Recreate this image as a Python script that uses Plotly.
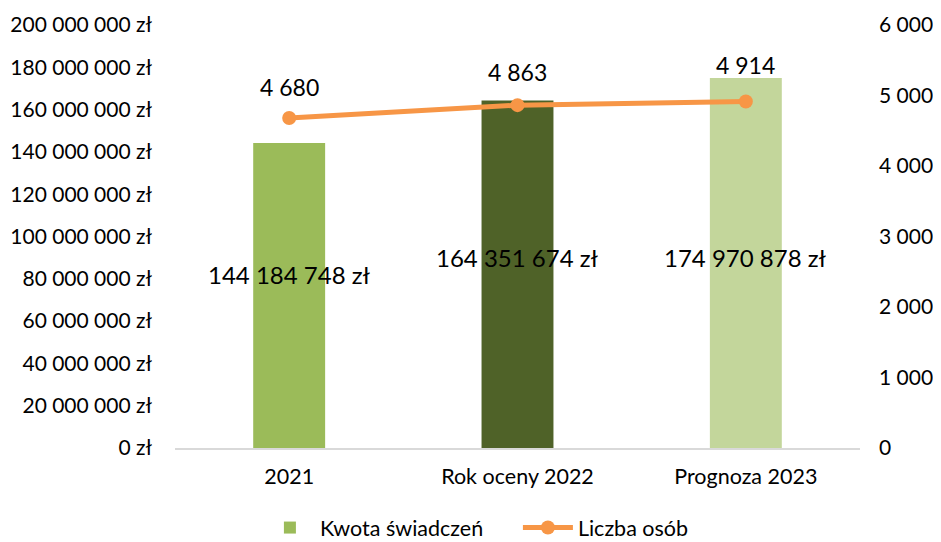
import plotly.graph_objects as go

categories = ["2021", "Rok oceny 2022", "Prognoza 2023"]
kwota = [144184748, 164351674, 174970878]
liczba = [4680, 4863, 4914]
kwota_labels = ["144 184 748 zł", "164 351 674 zł", "174 970 878 zł"]
liczba_labels = ["4 680", "4 863", "4 914"]
left_tickvals = [0, 20e6, 40e6, 60e6, 80e6, 100e6, 120e6, 140e6, 160e6, 180e6, 200e6]
left_ticktext = ["0 zł", "20 000 000 zł", "40 000 000 zł", "60 000 000 zł", "80 000 000 zł",
                 "100 000 000 zł", "120 000 000 zł", "140 000 000 zł", "160 000 000 zł",
                 "180 000 000 zł", "200 000 000 zł"]
right_tickvals = [0, 1000, 2000, 3000, 4000, 5000, 6000]
right_ticktext = ["0", "1 000", "2 000", "3 000", "4 000", "5 000", "6 000"]

bar_colors = ["#9BBB59", "#4F6228", "#C3D69B"]
bar_label_shift = [21, 17, 5]
line_label_shift = [31, 33, 37]

FONT = "Lato, 'Open Sans', sans-serif"

fig = go.Figure()
fig.add_trace(go.Bar(
    x=categories, y=kwota, name="Kwota świadczeń",
    marker=dict(color=bar_colors, line=dict(width=0)),
    width=0.315, yaxis="y", xaxis="x", hoverinfo="skip",
))
fig.add_trace(go.Scatter(
    x=categories, y=liczba, name="Liczba osób", mode="lines+markers",
    line=dict(color="#F79646", width=5),
    marker=dict(color="#F79646", size=14),
    yaxis="y2", xaxis="x", hoverinfo="skip",
))

annotations = []
for i, (v, t, s) in enumerate(zip(kwota, kwota_labels, bar_label_shift)):
    annotations.append(dict(x=i, y=v / 2, xref="x", yref="y", text=t, showarrow=False,
                            yshift=s, font=dict(family=FONT, size=24, color="#000000")))
for i, (v, t, s) in enumerate(zip(liczba, liczba_labels, line_label_shift)):
    annotations.append(dict(x=i, y=v, xref="x", yref="y2", text=t, showarrow=False,
                            yshift=s, font=dict(family=FONT, size=23, color="#000000")))

# page body has an 8px default margin, so the figure is sized 8px smaller
fig.update_layout(
    width=933, height=534,
    margin=dict(l=167, r=81, t=17, b=94, autoexpand=False),
    paper_bgcolor="white", plot_bgcolor="white",
    font=dict(family=FONT, size=21, color="#000000"),
    showlegend=True,
    legend=dict(orientation="h", xref="container", yref="container",
                x=0.27, xanchor="left", y=0.027, yanchor="middle",
                font=dict(size=21.5), itemwidth=50, entrywidth=193,
                traceorder="normal"),
    annotations=annotations,
)
fig.update_xaxes(type="category", categoryorder="array", categoryarray=categories,
                 range=[-0.5, 2.5], showgrid=False, showline=True, linecolor="#D9D9D9",
                 linewidth=2, ticks="outside", ticklen=8, tickcolor="rgba(0,0,0,0)",
                 tickfont=dict(size=21.5), automargin=False)
fig.update_layout(
    yaxis=dict(range=[0, 200e6], tickvals=left_tickvals, ticktext=left_ticktext,
               showgrid=False, zeroline=False, showline=False, ticks="",
               tickfont=dict(size=21), ticklabelstandoff=22, automargin=False),
    yaxis2=dict(range=[0, 6000], tickvals=right_tickvals, ticktext=right_ticktext,
                overlaying="y", side="right", showgrid=False, zeroline=False,
                showline=False, ticks="", tickfont=dict(size=21), ticklabelstandoff=18,
                automargin=False),
)

fig.write_html("out.html")
